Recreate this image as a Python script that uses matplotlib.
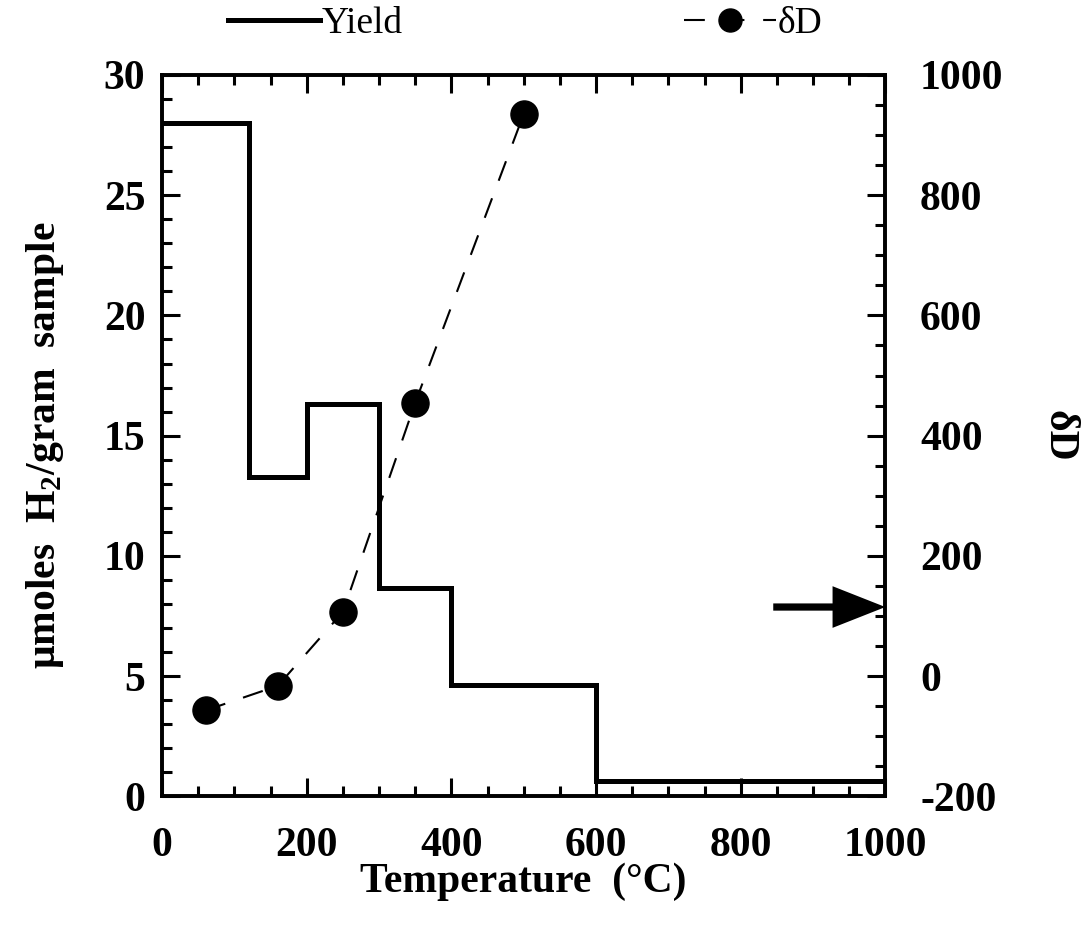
import matplotlib
matplotlib.use('Agg')
import matplotlib.pyplot as plt
from matplotlib.ticker import MultipleLocator

plt.rcParams['font.family'] = ['Liberation Serif', 'DejaVu Serif']
plt.rcParams['mathtext.fontset'] = 'custom'
plt.rcParams['mathtext.rm'] = 'Liberation Serif:bold'
plt.rcParams['axes.unicode_minus'] = False

#yield steps (left axis)
step_edges = [0, 120, 200, 300, 400, 600, 1000]
yield_vals = [28.0, 13.3, 16.3, 8.65, 4.65, 0.65]

#deltaD points (right axis)
dD_temps = [60, 160, 250, 350, 500]
dD_vals = [-57, -16, 107, 455, 935]

#arrow on the right axis
arrow_start = 845
arrow_end = 1000
arrow_level = 115

x_ticks = [0, 200, 400, 600, 800, 1000]
left_ticks = [0, 5, 10, 15, 20, 25, 30]
right_ticks = [-200, 0, 200, 400, 600, 800, 1000]

fig = plt.figure(figsize=(10.81, 9.25), dpi=100)
ax = fig.add_axes([0.150, 0.139, 0.669, 0.780])
ax2 = ax.twinx()

tick_font = dict(fontsize=30, fontweight='bold')

#yield as stairs
yline = ax.stairs(yield_vals, step_edges, baseline=None, color='black', lw=3.6, label='Yield')
ax.set_xlim(0, 1000)
ax.set_ylim(0, 30)
ax.set_xticks(x_ticks)
ax.set_yticks(left_ticks)
ax.xaxis.set_minor_locator(MultipleLocator(50))
ax.yaxis.set_minor_locator(MultipleLocator(1))
ax.set_xticklabels([str(t) for t in x_ticks], **tick_font)
ax.set_yticklabels([str(t) for t in left_ticks], **tick_font)
ax.tick_params(which='both', direction='in', top=True, right=False, width=2.2, color='black')
ax.tick_params(which='major', length=13)
ax.tick_params(which='minor', length=7)
ax.tick_params(axis='x', which='major', pad=22)
ax.tick_params(axis='y', which='major', pad=12)

#deltaD dashed line with dots
dline, = ax2.plot(dD_temps, dD_vals, color='black', lw=1.5, linestyle=(0, (10, 9)),
                  marker='o', markersize=19.5, label='δD')
ax2.set_ylim(-200, 1000)
ax2.set_yticks(right_ticks)
ax2.yaxis.set_minor_locator(MultipleLocator(50))
ax2.set_yticklabels([str(t) for t in right_ticks], **tick_font)
ax2.tick_params(which='both', direction='in', width=2.2, color='black')
ax2.tick_params(which='major', length=13, pad=25)
ax2.tick_params(which='minor', length=7)

ax2.annotate('', xy=(arrow_end, arrow_level), xytext=(arrow_start, arrow_level),
             arrowprops=dict(arrowstyle='simple,head_length=1.9,head_width=1.5,tail_width=0.26',
                             lw=0, color='black', shrinkA=0, shrinkB=0,
                             mutation_scale=20),
             annotation_clip=False)

for a in (ax, ax2):
    for s in a.spines.values():
        s.set_linewidth(2.6)

ax.set_xlabel('Temperature  (°C)', fontsize=30, fontweight='bold', va='center')
ax.xaxis.set_label_coords(0.5, -0.118)
ax.set_ylabel('μmoles  H$_2$/gram  sample', fontsize=30, fontweight='bold', va='center')
ax.yaxis.set_label_coords(-0.162, 0.487)
ax2.set_ylabel('δD', fontsize=30, fontweight='bold', rotation=270, va='center')
ax2.yaxis.set_label_coords(1.239, 0.5)

fig.legend([yline, dline], ['Yield', 'δD'], loc='center left',
           bbox_to_anchor=(228 / 1081, 1 - 24 / 925), ncol=2, frameon=False,
           borderpad=0, borderaxespad=0, handlelength=2.45, handletextpad=0.05,
           columnspacing=7.5, numpoints=1, markerscale=0.85,
           prop=dict(family='Liberation Serif', size=27))

fig.savefig('out.png', dpi=100, facecolor='white')
